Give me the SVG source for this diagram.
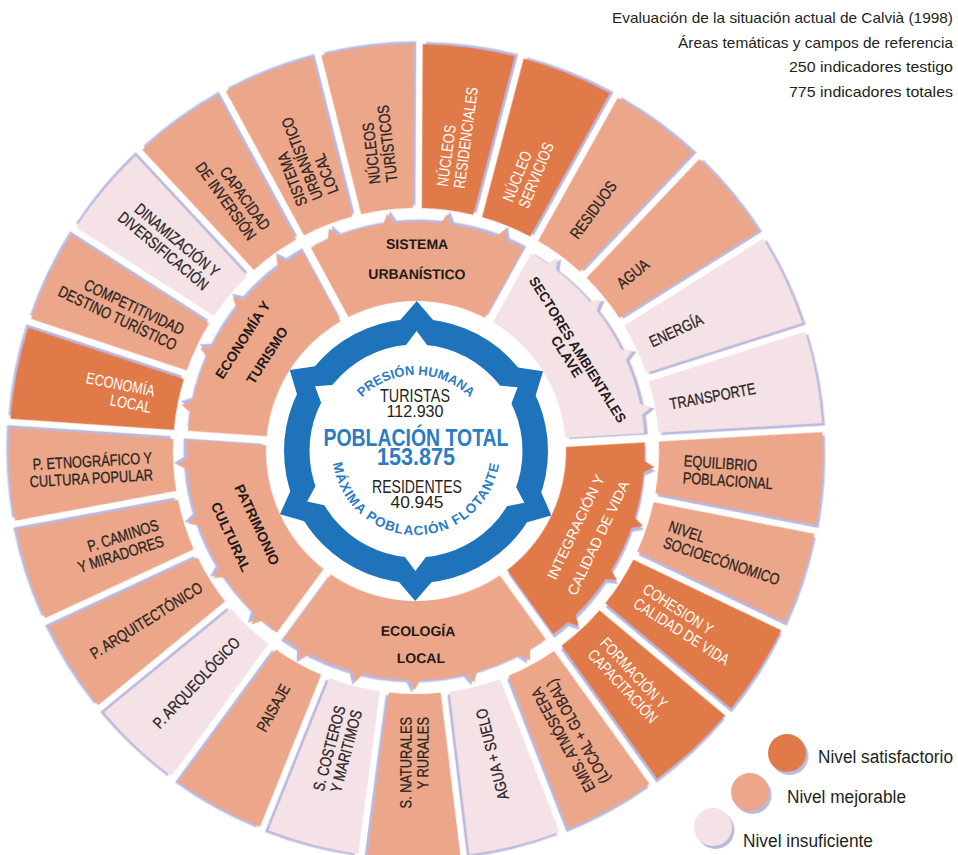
<svg xmlns="http://www.w3.org/2000/svg" width="958" height="855" viewBox="0 0 958 855">
<style>
text{font-family:"Liberation Sans",Arial,sans-serif}
.d{fill:#E07A4A}.m{fill:#ECA689}.l{fill:#F4E2E7}
.t{font-size:16px;fill:#2A2522;stroke:#2A2522;stroke-width:0.3px}
.tw{font-size:16px;fill:#FFFFFF}
.e{text-anchor:end}
.mt{font-size:14px;font-weight:bold;fill:#1E1A18;text-anchor:middle}
.mw{font-size:14.5px;fill:#FFFFFF;text-anchor:middle}
.ttl{font-size:15px;fill:#231F20}
.lg{font-size:18px;fill:#231F20}
.blue{fill:#2B7CC3;font-weight:bold}
.blk{fill:#231F20}
</style>
<defs>
<filter id="sh" x="-10%" y="-10%" width="125%" height="125%">
<feDropShadow dx="2.5" dy="3" stdDeviation="0.7" flood-color="#BAB8DC" flood-opacity="1"/>
</filter>
<path id="seg" d="M 241.61,-25.99 L 404.33,-46.54 A 407 407 0 0 1 404.33,46.54 L 241.61,25.99 A 243 243 0 0 0 241.61,-25.99 Z"/>
<polygon id="tip" points="226,-7 239,0 226,7"/>
<g id="midA">
<path d="M 133.56,-68.29 L 202.80,-106.36 A 229 229 0 0 1 202.80,106.36 L 133.56,68.29 A 150 150 0 0 0 133.56,-68.29 Z"/>
<use href="#tip" transform="rotate(-21.6)"/><use href="#tip" transform="rotate(-7.2)"/><use href="#tip" transform="rotate(7.2)"/><use href="#tip" transform="rotate(21.6)"/>
</g>
<g id="midB">
<path d="M 123.94,-84.49 L 187.87,-130.94 A 229 229 0 0 1 187.87,130.94 L 123.94,84.49 A 150 150 0 0 0 123.94,-84.49 Z"/>
<use href="#tip" transform="rotate(-28.8)"/><use href="#tip" transform="rotate(-14.4)"/><use href="#tip"/><use href="#tip" transform="rotate(14.4)"/><use href="#tip" transform="rotate(28.8)"/>
</g>
<polygon id="spike" points="128,-19 150,0 128,19"/>
<polygon id="notch" points="104,-12 120,0 104,12"/>
<path id="arcTop" d="M 340,451 A 76 76 0 0 1 492,451"/>
<path id="arcBot" d="M 332,451 A 84 84 0 0 0 500,451"/>
</defs>
<rect width="958" height="855" fill="#FFFFFF"/>

<g id="title" class="ttl">
<text x="612" y="23" textLength="341" lengthAdjust="spacingAndGlyphs">Evaluación de la situación actual de Calvià (1998)</text>
<text x="678" y="48" textLength="275" lengthAdjust="spacingAndGlyphs">Áreas temáticas y campos de referencia</text>
<text x="789" y="72" textLength="164" lengthAdjust="spacingAndGlyphs">250 indicadores testigo</text>
<text x="789" y="97" textLength="164" lengthAdjust="spacingAndGlyphs">775 indicadores totales</text>
</g>

<!-- outer ring -->
<g id="n-nucleos-residenciales"><use href="#seg" class="d" filter="url(#sh)" transform="translate(416,451) rotate(-82.5)"/>
<g class="tw" transform="translate(416,451) rotate(-82.5) translate(266,0) scale(.8,1)"><text y="-3">NÚCLEOS</text><text y="14">RESIDENCIALES</text></g></g>
<g id="n-nucleo-servicios"><use href="#seg" class="d" filter="url(#sh)" transform="translate(416,451) rotate(-68.1)"/>
<g class="tw" transform="translate(416,451) rotate(-68.1) translate(266,0) scale(.8,1)"><text y="-3">NÚCLEO</text><text y="14">SERVICIOS</text></g></g>
<g id="n-residuos"><use href="#seg" class="m" filter="url(#sh)" transform="translate(416,451) rotate(-53.7)"/>
<g class="t" transform="translate(416,451) rotate(-53.7) translate(266,0) scale(.8,1)"><text y="5.7">RESIDUOS</text></g></g>
<g id="n-agua"><use href="#seg" class="m" filter="url(#sh)" transform="translate(416,451) rotate(-39.3)"/>
<g class="t" transform="translate(416,451) rotate(-39.3) translate(262,0) scale(.8,1)"><text y="5.7">AGUA</text></g></g>
<g id="n-energia"><use href="#seg" class="l" filter="url(#sh)" transform="translate(416,451) rotate(-24.9)"/>
<g class="t" transform="translate(416,451) rotate(-24.9) translate(258,0) scale(.8,1)"><text y="5.7">ENERGÍA</text></g></g>
<g id="n-transporte"><use href="#seg" class="l" filter="url(#sh)" transform="translate(416,451) rotate(-10.5)"/>
<g class="t" transform="translate(416,451) rotate(-10.5) translate(258,0) scale(.8,1)"><text y="5.7">TRANSPORTE</text></g></g>
<g id="n-equilibrio"><use href="#seg" class="m" filter="url(#sh)" transform="translate(416,451) rotate(3.9)"/>
<g class="t" transform="translate(416,451) rotate(3.9) translate(268,0) scale(.8,1)"><text y="-3">EQUILIBRIO</text><text y="14">POBLACIONAL</text></g></g>
<g id="n-nivel"><use href="#seg" class="m" filter="url(#sh)" transform="translate(416,451) rotate(18.3)"/>
<g class="t" transform="translate(416,451) rotate(18.3) translate(264,0) scale(.8,1)"><text y="-3">NIVEL</text><text y="14">SOCIOECÓNOMICO</text></g></g>
<g id="n-cohesion"><use href="#seg" class="d" filter="url(#sh)" transform="translate(416,451) rotate(32.7)"/>
<g class="tw" transform="translate(416,451) rotate(32.7) translate(266,0) scale(.8,1)"><text y="-3">COHESION Y</text><text y="14">CALIDAD DE VIDA</text></g></g>
<g id="n-formacion"><use href="#seg" class="d" filter="url(#sh)" transform="translate(416,451) rotate(47.1)"/>
<g class="tw" transform="translate(416,451) rotate(47.1) translate(266,0) scale(.8,1)"><text y="-3">FORMACIÓN Y</text><text y="14">CAPACITACIÓN</text></g></g>
<g id="n-emis"><use href="#seg" class="m" filter="url(#sh)" transform="translate(416,451) rotate(61.5)"/>
<g class="t e" transform="translate(416,451) rotate(241.5) translate(-266,0) scale(.8,1)"><text y="-3">EMIS. ATMÓSFERA</text><text y="14">(LOCAL + GLOBAL)</text></g></g>
<g id="n-agua-suelo"><use href="#seg" class="l" filter="url(#sh)" transform="translate(416,451) rotate(75.9)"/>
<g class="t e" transform="translate(416,451) rotate(255.9) translate(-266,0) scale(.8,1)"><text y="5.7">AGUA + SUELO</text></g></g>
<g id="n-s-naturales"><use href="#seg" class="m" filter="url(#sh)" transform="translate(416,451) rotate(90.3)"/>
<g class="t e" transform="translate(416,451) rotate(270.3) translate(-266,0) scale(.8,1)"><text y="-3">S. NATURALES</text><text y="14">Y RURALES</text></g></g>
<g id="n-s-costeros"><use href="#seg" class="l" filter="url(#sh)" transform="translate(416,451) rotate(104.7)"/>
<g class="t e" transform="translate(416,451) rotate(284.7) translate(-266,0) scale(.8,1)"><text y="-3">S. COSTEROS</text><text y="14">Y MARITIMOS</text></g></g>
<g id="n-paisaje"><use href="#seg" class="m" filter="url(#sh)" transform="translate(416,451) rotate(119.1)"/>
<g class="t e" transform="translate(416,451) rotate(299.1) translate(-268,0) scale(.8,1)"><text y="5.7">PAISAJE</text></g></g>
<g id="n-p-arqueologico"><use href="#seg" class="l" filter="url(#sh)" transform="translate(416,451) rotate(133.5)"/>
<g class="t e" transform="translate(416,451) rotate(313.5) translate(-260,0) scale(.8,1)"><text y="5.7">P. ARQUEOLÓGICO</text></g></g>
<g id="n-p-arquitectonico"><use href="#seg" class="m" filter="url(#sh)" transform="translate(416,451) rotate(147.9)"/>
<g class="t e" transform="translate(416,451) rotate(327.9) translate(-254,0) scale(.8,1)"><text y="5.7">P. ARQUITECTÓNICO</text></g></g>
<g id="n-p-caminos"><use href="#seg" class="m" filter="url(#sh)" transform="translate(416,451) rotate(162.3)"/>
<g class="t e" transform="translate(416,451) rotate(342.3) translate(-268,0) scale(.8,1)"><text y="-3">P. CAMINOS</text><text y="14">Y MIRADORES</text></g></g>
<g id="n-p-etnografico"><use href="#seg" class="m" filter="url(#sh)" transform="translate(416,451) rotate(176.7)"/>
<g class="t e" transform="translate(416,451) rotate(356.7) translate(-264,0) scale(.8,1)"><text y="-3">P. ETNOGRÁFICO Y</text><text y="14">CULTURA POPULAR</text></g></g>
<g id="n-economia-local"><use href="#seg" class="d" filter="url(#sh)" transform="translate(416,451) rotate(191.1)"/>
<g class="tw e" transform="translate(416,451) rotate(11.1) translate(-268,0) scale(.8,1)"><text y="-3">ECONOMÍA</text><text y="14">LOCAL</text></g></g>
<g id="n-competitividad"><use href="#seg" class="m" filter="url(#sh)" transform="translate(416,451) rotate(205.5)"/>
<g class="t e" transform="translate(416,451) rotate(25.5) translate(-262,0) scale(.8,1)"><text y="-3">COMPETITIVIDAD</text><text y="14">DESTINO TURÍSTICO</text></g></g>
<g id="n-dinamizacion"><use href="#seg" class="l" filter="url(#sh)" transform="translate(416,451) rotate(219.9)"/>
<g class="t e" transform="translate(416,451) rotate(39.9) translate(-266,0) scale(.8,1)"><text y="-3">DINAMIZACIÓN Y</text><text y="14">DIVERSIFICACIÓN</text></g></g>
<g id="n-capacidad"><use href="#seg" class="m" filter="url(#sh)" transform="translate(416,451) rotate(234.3)"/>
<g class="t e" transform="translate(416,451) rotate(54.3) translate(-268,0) scale(.8,1)"><text y="-3">CAPACIDAD</text><text y="14">DE INVERSIÓN</text></g></g>
<g id="n-sistema-local"><use href="#seg" class="m" filter="url(#sh)" transform="translate(416,451) rotate(248.7)"/>
<g class="t" transform="translate(416,451) rotate(248.7) translate(270,0) scale(.8,1)"><text y="-11">SISTEMA</text><text y="5.7">URBANÍSTICO</text><text y="22.4">LOCAL</text></g></g>
<g id="n-nucleos-turisticos"><use href="#seg" class="m" filter="url(#sh)" transform="translate(416,451) rotate(263.1)"/>
<g class="t" transform="translate(416,451) rotate(263.1) translate(270,0) scale(.8,1)"><text y="-3">NÚCLEOS</text><text y="14">TURÍSTICOS</text></g></g>

<!-- middle ring -->
<g id="n-sistema-urbanistico"><use href="#midA" class="m" filter="url(#sh)" transform="translate(416,451) rotate(-89.7)"/>
<g transform="translate(416,451) rotate(-89.7)"><text class="mt" transform="translate(202,0) rotate(90)">SISTEMA</text><text class="mt" transform="translate(172,0) rotate(90)">URBANÍSTICO</text></g></g>
<g id="n-sectores"><use href="#midA" class="l" filter="url(#sh)" transform="translate(416,451) rotate(-32.1)"/>
<g transform="translate(416,451) rotate(-32.1)"><text class="mt" transform="translate(186,0) rotate(90) scale(.94,1)">SECTORES AMBIENTALES</text><text class="mt" transform="translate(173,0) rotate(90)">CLAVE</text></g></g>
<g id="n-integracion"><use href="#midA" class="d" filter="url(#sh)" transform="translate(416,451) rotate(25.5)"/>
<g transform="translate(416,451) rotate(25.5)"><text class="mw" transform="translate(182,0) rotate(-90)">INTEGRACIÓN Y</text><text class="mw" transform="translate(207,0) rotate(-90)">CALIDAD DE VIDA</text></g></g>
<g id="n-ecologia"><use href="#midB" class="m" filter="url(#sh)" transform="translate(416,451) rotate(90.3)"/>
<g transform="translate(416,451) rotate(90.3)"><text class="mt" transform="translate(185,-3) rotate(-90)">ECOLOGÍA</text><text class="mt" transform="translate(212,-6) rotate(-90)">LOCAL</text></g></g>
<g id="n-patrimonio"><use href="#midA" class="m" filter="url(#sh)" transform="translate(416,451) rotate(155.1)"/>
<g transform="translate(416,451) rotate(155.1)"><text class="mt" transform="translate(180,0) rotate(-90)">PATRIMONIO</text><text class="mt" transform="translate(209,0) rotate(-90)">CULTURAL</text></g></g>
<g id="n-economia"><use href="#midA" class="m" filter="url(#sh)" transform="translate(416,451) rotate(-147.3)"/>
<g transform="translate(416,451) rotate(-147.3)"><text class="mt" transform="translate(201,0) rotate(90)">ECONOMÍA Y</text><text class="mt" transform="translate(172,0) rotate(90)">TURISMO</text></g></g>

<!-- center -->
<g id="n-centro">
<circle cx="416" cy="451" r="106" fill="#FFFFFF"/>
<circle cx="416" cy="451" r="119.25" fill="none" stroke="#1E73BB" stroke-width="25.5"/>
<g fill="#1E73BB" transform="translate(416,451)">
<use href="#spike" transform="rotate(-89.7)"/><use href="#spike" transform="rotate(-32.1)"/><use href="#spike" transform="rotate(25.5)"/><use href="#spike" transform="rotate(90.3)"/><use href="#spike" transform="rotate(155.1)"/><use href="#spike" transform="rotate(-147.3)"/>
</g>
<g fill="#FFFFFF" transform="translate(416,451)">
<use href="#notch" transform="rotate(-89.7)"/><use href="#notch" transform="rotate(-32.1)"/><use href="#notch" transform="rotate(25.5)"/><use href="#notch" transform="rotate(90.3)"/><use href="#notch" transform="rotate(155.1)"/><use href="#notch" transform="rotate(-147.3)"/>
</g>
<text class="blue" font-size="13" text-anchor="middle"><textPath href="#arcTop" startOffset="50%">PRESIÓN HUMANA</textPath></text>
<text class="blue" font-size="13.5" letter-spacing="1" text-anchor="middle"><textPath href="#arcBot" startOffset="50%">MÁXIMA POBLACIÓN FLOTANTE</textPath></text>
<text class="blk" x="415" y="402" font-size="18" text-anchor="middle" textLength="70" lengthAdjust="spacingAndGlyphs">TURISTAS</text>
<text class="blk" x="415" y="417" font-size="16" text-anchor="middle" textLength="57" lengthAdjust="spacingAndGlyphs">112.930</text>
<text class="blue" x="416" y="446" font-size="23" text-anchor="middle" textLength="185" lengthAdjust="spacingAndGlyphs">POBLACIÓN TOTAL</text>
<text class="blue" x="416" y="465" font-size="23" text-anchor="middle" textLength="78" lengthAdjust="spacingAndGlyphs">153.875</text>
<text class="blk" x="417" y="493" font-size="18" text-anchor="middle" textLength="90" lengthAdjust="spacingAndGlyphs">RESIDENTES</text>
<text class="blk" x="417" y="508" font-size="16" text-anchor="middle" textLength="53" lengthAdjust="spacingAndGlyphs">40.945</text>
</g>

<!-- legend -->
<g id="legend">
<circle cx="787" cy="753" r="19" class="d" filter="url(#sh)"/>
<circle cx="750" cy="792" r="19" class="m" filter="url(#sh)"/>
<circle cx="713" cy="827" r="19" class="l" filter="url(#sh)"/>
<text class="lg" x="818" y="763" textLength="135" lengthAdjust="spacingAndGlyphs">Nivel satisfactorio</text>
<text class="lg" x="787" y="803" textLength="119" lengthAdjust="spacingAndGlyphs">Nivel mejorable</text>
<text class="lg" x="743" y="847" textLength="130" lengthAdjust="spacingAndGlyphs">Nivel insuficiente</text>
</g>
</svg>
